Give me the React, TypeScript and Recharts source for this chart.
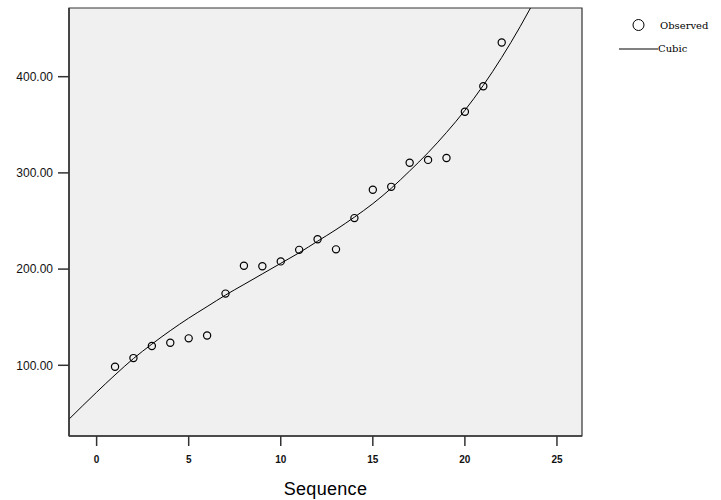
import React from 'react';
import { ComposedChart, Scatter, Line, XAxis, YAxis, CartesianGrid, ReferenceArea } from 'recharts';

const seqX = [1, 2, 3, 4, 5, 6, 7, 8, 9, 10, 11, 12, 13, 14, 15, 16, 17, 18, 19, 20, 21, 22];
const observedY = [98.5, 107.5, 120, 123.5, 128, 131, 174.5, 203.5, 203, 208, 220, 231, 220.5, 253, 282.5, 285.5, 310.5, 313.5, 315.5, 363.5, 390, 435.5];

const cubicX = [-1.5, 0, 1, 2, 3, 4, 5, 6, 7, 8, 9, 10, 11, 12, 13, 14, 15, 16, 17, 18, 19, 20, 21, 22, 23, 24];
const cubicY = [44, 72, 90, 107, 122, 136, 149, 161, 173, 184, 195, 206, 217, 229, 241, 254, 268, 284, 302, 321, 342, 365, 391, 420, 452, 487];

const xTicks = [0, 5, 10, 15, 20, 25];
const yTicks = [100, 200, 300, 400];

const observedData = seqX.map((x, i) => ({ x, y: observedY[i] }));
const cubicData = cubicX.map((x, i) => ({ x, y: cubicY[i] }));

const X_MIN = -1.5;
const X_MAX = 26.36;
const Y_MIN = 26.5;
const Y_MAX = 471.4;

const OpenCircle = (props: any) => {
  const { cx, cy } = props;
  if (cx == null || cy == null) return null;
  return <circle cx={cx} cy={cy} r={3.6} fill="none" stroke="#000" strokeWidth={1.2} />;
};

export default function App() {
  return (
    <div style={{ position: 'absolute', left: 0, top: 0, width: 721, height: 500, background: '#fff' }}>
      <ComposedChart
        width={721}
        height={500}
        margin={{ top: 8, right: 139, bottom: 0, left: 0 }}
      >
        <CartesianGrid horizontal={false} vertical={false} fill="#f0f0f0" />
        <XAxis
          type="number"
          dataKey="x"
          domain={[X_MIN, X_MAX]}
          ticks={xTicks}
          allowDataOverflow
          height={64}
          tickSize={10}
          tickMargin={10}
          stroke="#333"
          axisLine={{ stroke: '#333', strokeWidth: 1.5 }}
          tickLine={{ stroke: '#333', strokeWidth: 1.5 }}
          tick={{ fill: '#111', fontSize: 10, fontFamily: 'Liberation Sans, Arial, sans-serif', fontWeight: 'bold' }}
          label={{ value: 'Sequence', position: 'insideBottom', offset: 5, fill: '#000', fontSize: 18, fontFamily: 'Liberation Sans, Arial, sans-serif', letterSpacing: 0.3 }}
        />
        <YAxis
          type="number"
          dataKey="y"
          domain={[Y_MIN, Y_MAX]}
          ticks={yTicks}
          allowDataOverflow
          width={69}
          tickSize={11}
          tickMargin={5}
          stroke="#333"
          axisLine={{ stroke: '#333', strokeWidth: 1.5 }}
          tickLine={{ stroke: '#333', strokeWidth: 1.5 }}
          tickFormatter={(v: number) => v.toFixed(2)}
          tick={{ fill: '#111', fontSize: 12, fontFamily: 'Liberation Sans, Arial, sans-serif' }}
        />
        <Line
          data={cubicData}
          dataKey="y"
          type="monotone"
          stroke="#000"
          strokeWidth={1}
          dot={false}
          activeDot={false}
          isAnimationActive={false}
          legendType="none"
        />
        <Scatter
          data={observedData}
          dataKey="y"
          shape={<OpenCircle />}
          isAnimationActive={false}
        />
        <ReferenceArea x1={X_MIN} x2={X_MAX} y1={Y_MIN} y2={Y_MAX} fill="none" fillOpacity={0} stroke="#333" strokeWidth={1.2} />
      </ComposedChart>
      <svg width={721} height={70} style={{ position: 'absolute', left: 0, top: 0, pointerEvents: 'none' }}>
        <circle cx={638.5} cy={25} r={5.5} fill="none" stroke="#000" strokeWidth={1} />
        <text x={660} y={28.5} fontSize={10} fontFamily="DejaVu Serif, Liberation Serif, serif" fill="#000">Observed</text>
        <line x1={619} y1={49} x2={658} y2={49} stroke="#000" strokeWidth={1} />
        <text x={658} y={52} fontSize={10} fontFamily="DejaVu Serif, Liberation Serif, serif" fill="#000">Cubic</text>
      </svg>
    </div>
  );
}
